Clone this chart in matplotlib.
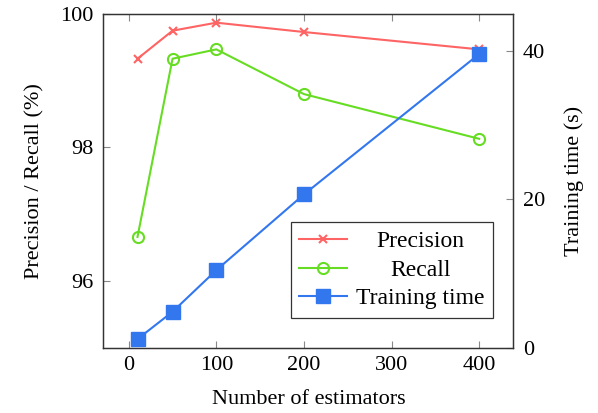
import matplotlib
matplotlib.use("Agg")
import matplotlib.pyplot as plt

estimators = [10, 50, 100, 200, 400]
precision = [99.33, 99.75, 99.87, 99.73, 99.47]
recall = [96.66, 99.33, 99.47, 98.80, 98.13]
train_time = [1.16, 4.85, 10.46, 20.67, 39.6]

x_ticks = [0, 100, 200, 300, 400]
left_ticks = [96, 98, 100]
right_ticks = [0, 20, 40]

plt.rcParams['font.family'] = ['Liberation Serif', 'DejaVu Serif']
plt.rcParams['mathtext.fontset'] = 'stix'
FS = 16
LFS = 17

red = '#ff6464'
green = '#66dd22'
blue = '#3377ee'

fig = plt.figure(figsize=(5.98, 4.13), dpi=100)
ax = fig.add_axes([0.1728, 0.1581, 0.6856, 0.8080])
ax2 = ax.twinx()

l1, = ax.plot(estimators, precision, color=red, lw=1.5, marker='x', ms=6, mew=1.5, label='Precision')
l2, = ax.plot(estimators, recall, color=green, lw=1.5, marker='o', ms=8, mfc='none', mew=1.5, label='Recall')
l3, = ax2.plot(estimators, train_time, color=blue, lw=1.5, marker='s', ms=9.5, label='Training time')

ax.set_xlim(-29, 439)
ax.set_ylim(95, 100)
ax2.set_ylim(0, 45)
ax.set_xticks(x_ticks)
ax.set_yticks(left_ticks)
ax2.set_yticks(right_ticks)

spine_col = '#333333'
tick_col = '#888888'
for a in (ax, ax2):
    for s in a.spines.values():
        s.set_color(spine_col)
        s.set_linewidth(0.9)
ax.tick_params(axis='x', direction='in', top=True, length=5, color=tick_col, labelsize=FS, pad=6)
ax.tick_params(axis='y', direction='in', right=False, length=5, color=tick_col, labelsize=FS, pad=7)
ax2.tick_params(axis='y', direction='in', length=5, color=tick_col, labelsize=FS, pad=7)

ax.set_xlabel('Number of estimators', fontsize=FS, labelpad=11)
ax.set_ylabel('Precision / Recall (%)', fontsize=FS, labelpad=11)
ax2.set_ylabel('Training time (s)', fontsize=FS, labelpad=14)

ax2.set_zorder(ax.get_zorder() + 1)
ax2.patch.set_visible(False)

leg = ax2.legend(handles=[l1, l2, l3], loc='lower right', bbox_to_anchor=(0.95, 0.09),
                 fontsize=LFS, frameon=True, fancybox=False, edgecolor='black',
                 borderpad=0.35, labelspacing=0.3, handlelength=2.0, handletextpad=0.4,
                 borderaxespad=0)
leg.get_frame().set_linewidth(0.9)

fig.canvas.draw()
renderer = fig.canvas.get_renderer()
texts = leg.get_texts()
widths = [t.get_window_extent(renderer).width for t in texts]
W = max(widths)
for t, w in zip(texts, widths):
    t.set_x((W - w) / 2.0)

fig.savefig('out.png', dpi=100)
